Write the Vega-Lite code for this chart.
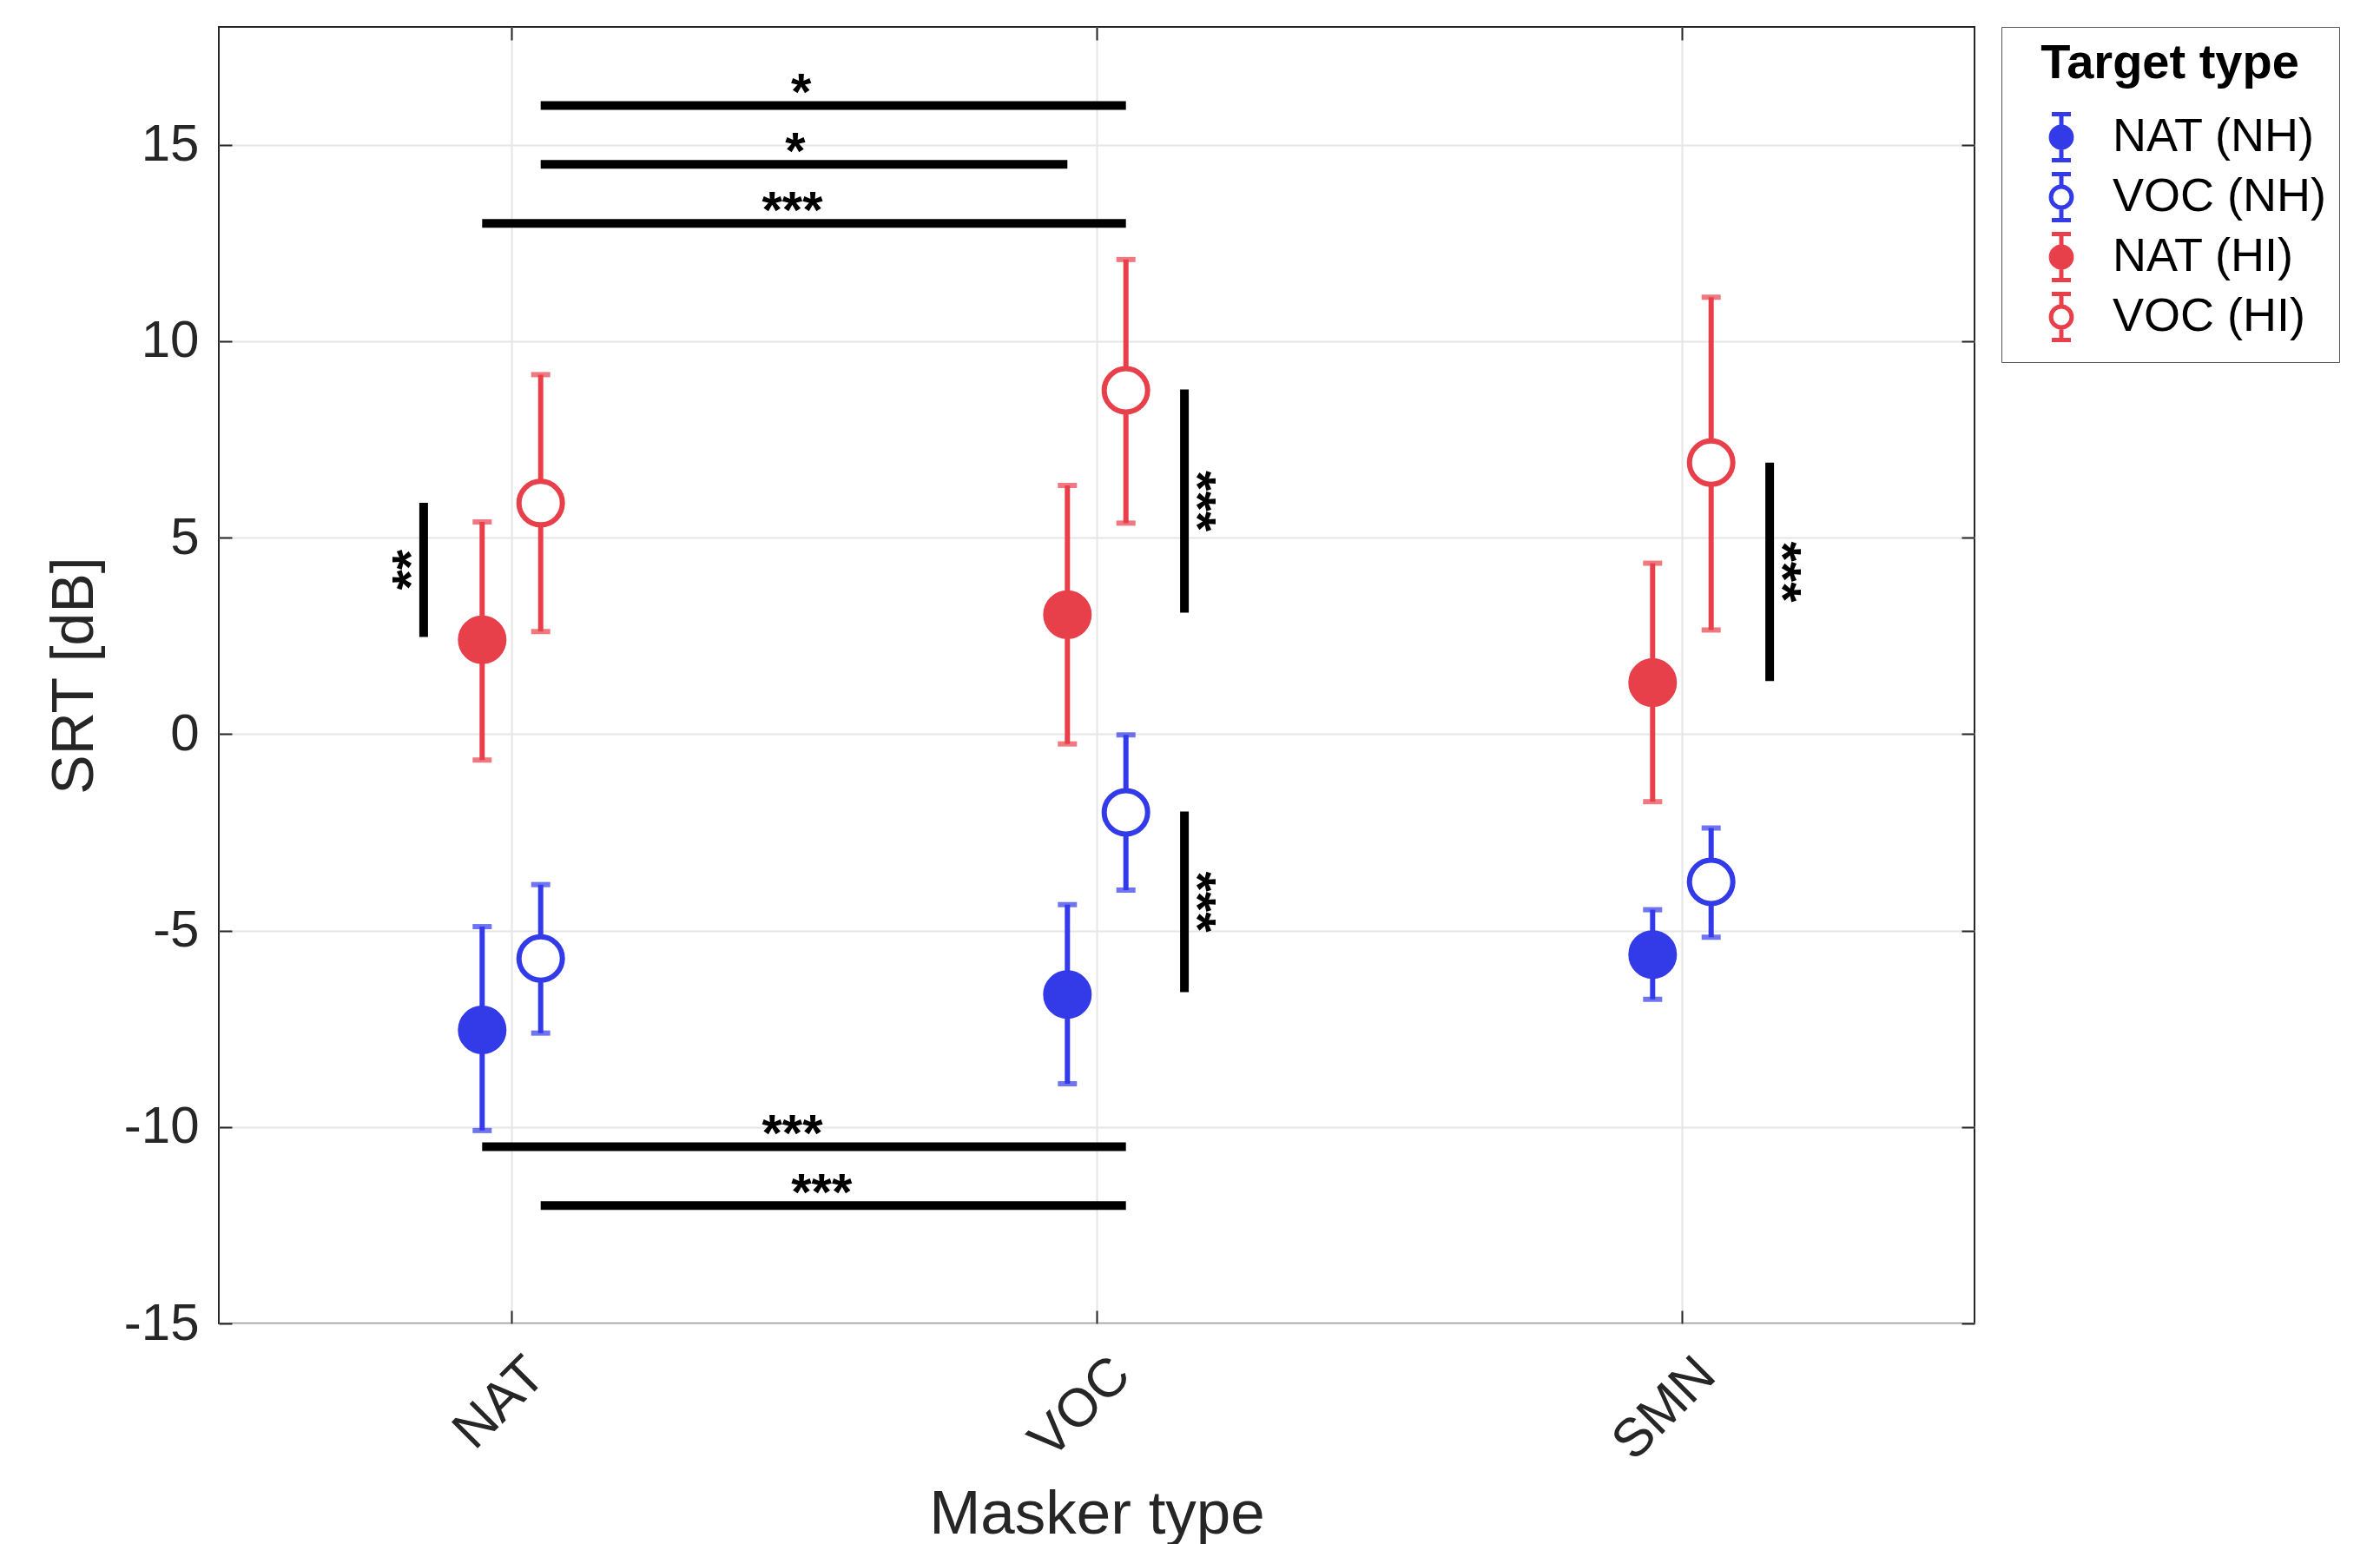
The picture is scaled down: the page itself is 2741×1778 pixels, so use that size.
{
  "$schema": "https://vega.github.io/schema/vega-lite/v6.json",
  "padding": {"top": 30, "left": 52, "right": 5, "bottom": 0},
  "width": 2022,
  "height": 1493,
  "config": {
    "font": "Liberation Sans",
    "view": {"stroke": "#262626", "strokeWidth": 2}
  },
  "datasets": {
    "pts": [
      {"masker": "NAT", "target": "NAT (NH)", "group": "NH", "xpos": 0.95, "srt": -7.53, "lo": -10.09, "hi": -4.90},
      {"masker": "NAT", "target": "VOC (NH)", "group": "NH", "xpos": 1.05, "srt": -5.71, "lo": -7.61, "hi": -3.83},
      {"masker": "NAT", "target": "NAT (HI)", "group": "HI", "xpos": 0.95, "srt": 2.40, "lo": -0.66, "hi": 5.40},
      {"masker": "NAT", "target": "VOC (HI)", "group": "HI", "xpos": 1.05, "srt": 5.88, "lo": 2.61, "hi": 9.15},
      {"masker": "VOC", "target": "NAT (NH)", "group": "NH", "xpos": 1.95, "srt": -6.63, "lo": -8.90, "hi": -4.34},
      {"masker": "VOC", "target": "VOC (NH)", "group": "NH", "xpos": 2.05, "srt": -1.99, "lo": -3.97, "hi": -0.02},
      {"masker": "VOC", "target": "NAT (HI)", "group": "HI", "xpos": 1.95, "srt": 3.04, "lo": -0.25, "hi": 6.33},
      {"masker": "VOC", "target": "VOC (HI)", "group": "HI", "xpos": 2.05, "srt": 8.75, "lo": 5.37, "hi": 12.08},
      {"masker": "SMN", "target": "NAT (NH)", "group": "NH", "xpos": 2.95, "srt": -5.61, "lo": -6.75, "hi": -4.47},
      {"masker": "SMN", "target": "VOC (NH)", "group": "NH", "xpos": 3.05, "srt": -3.76, "lo": -5.17, "hi": -2.39},
      {"masker": "SMN", "target": "NAT (HI)", "group": "HI", "xpos": 2.95, "srt": 1.31, "lo": -1.72, "hi": 4.35},
      {"masker": "SMN", "target": "VOC (HI)", "group": "HI", "xpos": 3.05, "srt": 6.91, "lo": 2.65, "hi": 11.12}
    ],
    "sig": [
      {"x1": 1.05, "x2": 2.05, "y1": 16, "y2": 16, "label": "*", "lx": 1.495, "ly": 16, "side": "top"},
      {"x1": 1.05, "x2": 1.95, "y1": 14.5, "y2": 14.5, "label": "*", "lx": 1.485, "ly": 14.5, "side": "top"},
      {"x1": 0.95, "x2": 2.05, "y1": 13, "y2": 13, "label": "***", "lx": 1.48, "ly": 13, "side": "top"},
      {"x1": 0.95, "x2": 2.05, "y1": -10.5, "y2": -10.5, "label": "***", "lx": 1.48, "ly": -10.5, "side": "top"},
      {"x1": 1.05, "x2": 2.05, "y1": -12, "y2": -12, "label": "***", "lx": 1.53, "ly": -12, "side": "top"},
      {"x1": 0.85, "x2": 0.85, "y1": 2.47, "y2": 5.89, "label": "**", "lx": 0.85, "ly": 4.18, "side": "left"},
      {"x1": 2.15, "x2": 2.15, "y1": 3.09, "y2": 8.77, "label": "***", "lx": 2.15, "ly": 5.93, "side": "right"},
      {"x1": 2.15, "x2": 2.15, "y1": -1.97, "y2": -6.57, "label": "***", "lx": 2.15, "ly": -4.27, "side": "right"},
      {"x1": 3.15, "x2": 3.15, "y1": 1.35, "y2": 6.91, "label": "***", "lx": 3.15, "ly": 4.13, "side": "right"}
    ]
  },
  "resolve": {"axis": {"x": "independent", "y": "independent"}},
  "layer": [
    {
      "data": {"name": "pts"},
      "mark": {"type": "rule", "strokeWidth": 6},
      "encoding": {
        "x": {"field": "xpos", "type": "quantitative", "scale": {"domain": [0.5, 3.5], "nice": false, "zero": false},
          "axis": {"orient": "top", "values": [1, 2, 3], "labels": false, "grid": false, "domain": false, "tickSize": -15, "tickColor": "#262626", "tickWidth": 2, "title": null}},
        "y": {"field": "lo", "type": "quantitative", "scale": {"domain": [-15, 18], "nice": false, "zero": false},
          "axis": {"orient": "right", "values": [-15, -10, -5, 0, 5, 10, 15], "labels": false, "grid": false, "domain": false, "tickSize": -15, "tickColor": "#262626", "tickWidth": 2, "title": null}},
        "y2": {"field": "hi"},
        "color": {"field": "group", "type": "nominal", "legend": null,
          "scale": {"domain": ["NH", "HI"], "range": ["#333BE8", "#E8404B"]}}
      }
    },
    {
      "data": {"name": "pts"},
      "mark": {"type": "tick", "orient": "horizontal", "size": 16, "thickness": 0.01, "filled": false, "strokeWidth": 6},
      "encoding": {
        "x": {"field": "xpos", "type": "quantitative",
          "axis": {"orient": "bottom", "title": "Masker type", "values": [1, 2, 3],
            "labelExpr": "datum.value == 1 ? 'NAT' : datum.value == 2 ? 'VOC' : 'SMN'",
            "labelAngle": -45, "labelAlign": "right", "labelBaseline": "middle", "labelOffset": 28, "labelPadding": 64,
            "labelFontSize": 62, "labelColor": "#262626", "labelFont": "Liberation Sans",
            "grid": true, "gridColor": "#e6e6e6", "gridWidth": 2, "domain": false,
            "tickSize": -15, "tickColor": "#262626", "tickWidth": 2,
            "titleFontSize": 71, "titleFontWeight": "normal", "titleColor": "#262626", "titleFont": "Liberation Sans", "titlePadding": 17}},
        "y": {"field": "lo", "type": "quantitative",
          "axis": {"orient": "left", "title": "SRT [dB]", "values": [-15, -10, -5, 0, 5, 10, 15], "labelExpr": "'' + datum.value",
            "grid": true, "gridColor": "#e6e6e6", "gridWidth": 2, "domain": false,
            "tickSize": -15, "tickColor": "#262626", "tickWidth": 2, "labelPadding": 38,
            "labelFontSize": 60, "labelColor": "#262626", "labelFont": "Liberation Sans",
            "titleFontSize": 68, "titleFontWeight": "normal", "titleColor": "#262626", "titleFont": "Liberation Sans", "titlePadding": 22}},
        "color": {"field": "group", "type": "nominal", "legend": null}
      }
    },
    {
      "data": {"name": "pts"},
      "mark": {"type": "tick", "orient": "horizontal", "size": 16, "thickness": 0.01, "filled": false, "strokeWidth": 6},
      "encoding": {
        "x": {"field": "xpos", "type": "quantitative", "axis": null},
        "y": {"field": "hi", "type": "quantitative", "axis": null},
        "color": {"field": "group", "type": "nominal", "legend": null}
      }
    },
    {
      "mark": {"type": "rule", "color": "#000000", "strokeWidth": 2},
      "encoding": {"y": {"datum": 0, "type": "quantitative", "axis": null}}
    },
    {
      "data": {"name": "pts"},
      "mark": {"type": "point", "shape": "circle", "size": 2500, "strokeWidth": 6, "opacity": 1, "filled": false},
      "encoding": {
        "x": {"field": "xpos", "type": "quantitative", "axis": null},
        "y": {"field": "srt", "type": "quantitative", "axis": null},
        "stroke": {"field": "target", "type": "nominal", "title": "Target type",
          "scale": {"domain": ["NAT (NH)", "VOC (NH)", "NAT (HI)", "VOC (HI)"], "range": ["#333BE8", "#333BE8", "#E8404B", "#E8404B"]},
          "legend": {
            "symbolType": "M0,-1L0,-0.45M0,0.45L0,1M-0.415,-1L0.415,-1M-0.415,1L0.415,1M0.45,0A0.45,0.45,0,1,1,-0.45,0A0.45,0.45,0,1,1,0.45,0Z",
            "symbolSize": 2809, "symbolStrokeWidth": 5, "symbolOffset": 25, "symbolOpacity": 1,
            "labelOffset": 30, "labelFontSize": 54, "labelColor": "#000000", "labelFont": "Liberation Sans", "labelLimit": 600,
            "titleFont": "Liberation Sans", "titleFontSize": 56, "titleFontWeight": "bold", "titleColor": "#000000", "titleLimit": 600,
            "titleAnchor": "middle", "titlePadding": 27, "rowPadding": -5, "padding": 15, "offset": 30,
            "strokeColor": "#555555", "fillColor": "#ffffff", "orient": "right"}},
        "fill": {"field": "target", "type": "nominal", "title": "Target type",
          "scale": {"domain": ["NAT (NH)", "VOC (NH)", "NAT (HI)", "VOC (HI)"], "range": ["#333BE8", "#ffffff", "#E8404B", "#ffffff"]},
          "legend": {
            "symbolType": "M0,-1L0,-0.45M0,0.45L0,1M-0.415,-1L0.415,-1M-0.415,1L0.415,1M0.45,0A0.45,0.45,0,1,1,-0.45,0A0.45,0.45,0,1,1,0.45,0Z",
            "symbolSize": 2809, "symbolStrokeWidth": 5, "symbolOffset": 25, "symbolOpacity": 1,
            "labelOffset": 30, "labelFontSize": 54, "labelColor": "#000000", "labelFont": "Liberation Sans", "labelLimit": 600,
            "titleFont": "Liberation Sans", "titleFontSize": 56, "titleFontWeight": "bold", "titleColor": "#000000", "titleLimit": 600,
            "titleAnchor": "middle", "titlePadding": 27, "rowPadding": -5, "padding": 15, "offset": 30,
            "strokeColor": "#555555", "fillColor": "#ffffff", "orient": "right"}}
      }
    },
    {
      "data": {"name": "sig"},
      "mark": {"type": "rule", "color": "#000000", "strokeWidth": 10, "strokeCap": "butt"},
      "encoding": {
        "x": {"field": "x1", "type": "quantitative", "axis": null},
        "x2": {"field": "x2"},
        "y": {"field": "y1", "type": "quantitative", "axis": null},
        "y2": {"field": "y2"}
      }
    },
    {
      "data": {"name": "sig"},
      "transform": [{"filter": "datum.side == 'top'"}],
      "mark": {"type": "text", "fontSize": 60, "fontWeight": "bold", "color": "#000000", "align": "center", "baseline": "alphabetic", "dy": 5},
      "encoding": {
        "x": {"field": "lx", "type": "quantitative", "axis": null},
        "y": {"field": "ly", "type": "quantitative", "axis": null},
        "text": {"field": "label"}
      }
    },
    {
      "data": {"name": "sig"},
      "transform": [{"filter": "datum.side == 'left'"}],
      "mark": {"type": "text", "fontSize": 60, "fontWeight": "bold", "color": "#000000", "align": "center", "baseline": "alphabetic", "dy": 5, "angle": 270},
      "encoding": {
        "x": {"field": "lx", "type": "quantitative", "axis": null},
        "y": {"field": "ly", "type": "quantitative", "axis": null},
        "text": {"field": "label"}
      }
    },
    {
      "data": {"name": "sig"},
      "transform": [{"filter": "datum.side == 'right'"}],
      "mark": {"type": "text", "fontSize": 60, "fontWeight": "bold", "color": "#000000", "align": "center", "baseline": "alphabetic", "dy": 5, "angle": 90},
      "encoding": {
        "x": {"field": "lx", "type": "quantitative", "axis": null},
        "y": {"field": "ly", "type": "quantitative", "axis": null},
        "text": {"field": "label"}
      }
    }
  ]
}
